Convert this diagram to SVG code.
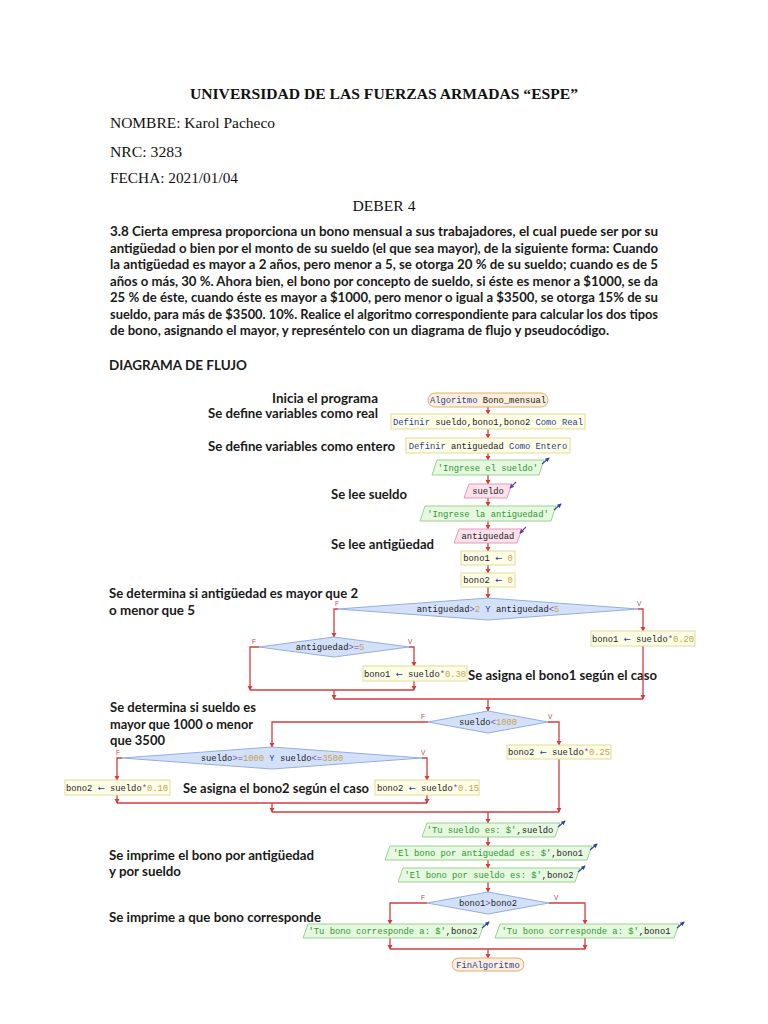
<svg xmlns="http://www.w3.org/2000/svg" width="768" height="1024" viewBox="0 0 768 1024">
<defs>
<style>
.ser{font-family:"Liberation Serif","Times New Roman",serif;font-size:15px;fill:#111}
.serb{font-family:"Liberation Serif","Times New Roman",serif;font-size:15px;font-weight:bold;fill:#111}
.par{font-family:Lato,"Liberation Sans",sans-serif;font-size:13.5px;font-weight:bold;fill:#1a1a1a}
.lbl{font-family:Lato,"Liberation Sans",sans-serif;font-size:13.5px;font-weight:bold;fill:#1a1a1a}
.code{font-family:"Liberation Mono","DejaVu Sans Mono",monospace;font-size:8.8px;fill:#222}
.kw{fill:#2a3f9a}.num{fill:#c8a050}.str{fill:#2a9a2a}.op{fill:#7a48b0}
.ar{fill:#2a3f9a;font-family:"DejaVu Sans",sans-serif;font-size:8.5px}
.term{fill:#fbeedc;stroke:#e0ae6a;stroke-width:1}
.proc{fill:#fefde6;stroke:#e2dc9a;stroke-width:1}
.inp{fill:#fbe1ec;stroke:#e49ab8;stroke-width:1}
.out{fill:#e6f8e0;stroke:#98d290;stroke-width:1}
.dec{fill:#d3e1f8;stroke:#96ade0;stroke-width:1}
.cn{fill:none;stroke:#d43c3c;stroke-width:1.3}
.bl{font-family:"Liberation Sans",sans-serif;font-size:6.5px;fill:#d43c3c}
.oic{stroke:#2a3fb0;stroke-width:1.1;fill:none}
.iic{stroke:#6a3ab0;stroke-width:1.1;fill:none}
</style>
<marker id="ah" viewBox="0 0 6 6" refX="5" refY="3" markerWidth="4" markerHeight="4" orient="auto"><path d="M0,0L6,3L0,6z" fill="#d43c3c"/></marker>
<marker id="ob" viewBox="0 0 6 6" refX="5" refY="3" markerWidth="4" markerHeight="4" orient="auto"><path d="M0,0L6,3L0,6z" fill="#2a3fb0"/></marker>
<marker id="ip" viewBox="0 0 6 6" refX="5" refY="3" markerWidth="4" markerHeight="4" orient="auto"><path d="M0,0L6,3L0,6z" fill="#6a3ab0"/></marker>
</defs>
<rect width="768" height="1024" fill="#ffffff"/>

<g id="header">
<text class="serb" x="384" y="99" text-anchor="middle" textLength="388" lengthAdjust="spacingAndGlyphs">UNIVERSIDAD DE LAS FUERZAS ARMADAS “ESPE”</text>
<text class="ser" x="110" y="128" textLength="165" lengthAdjust="spacingAndGlyphs">NOMBRE: Karol Pacheco</text>
<text class="ser" x="110" y="157" textLength="72" lengthAdjust="spacingAndGlyphs">NRC: 3283</text>
<text class="ser" x="110" y="183" textLength="128" lengthAdjust="spacingAndGlyphs">FECHA: 2021/01/04</text>
<text class="ser" x="384" y="211" text-anchor="middle" textLength="63" lengthAdjust="spacingAndGlyphs">DEBER 4</text>
<text class="par" x="110" y="236" textLength="548" lengthAdjust="spacingAndGlyphs">3.8 Cierta empresa proporciona un bono mensual a sus trabajadores, el cual puede ser por su</text>
<text class="par" x="110" y="253" textLength="548" lengthAdjust="spacingAndGlyphs">antigüedad o bien por el monto de su sueldo (el que sea mayor), de la siguiente forma: Cuando</text>
<text class="par" x="110" y="269" textLength="548" lengthAdjust="spacingAndGlyphs">la antigüedad es mayor a 2 años, pero menor a 5, se otorga 20 % de su sueldo; cuando es de 5</text>
<text class="par" x="110" y="286" textLength="548" lengthAdjust="spacingAndGlyphs">años o más, 30 %. Ahora bien, el bono por concepto de sueldo, si éste es menor a $1000, se da</text>
<text class="par" x="110" y="302" textLength="548" lengthAdjust="spacingAndGlyphs">25 % de éste, cuando éste es mayor a $1000, pero menor o igual a $3500, se otorga 15% de su</text>
<text class="par" x="110" y="319" textLength="548" lengthAdjust="spacingAndGlyphs">sueldo, para más de $3500. 10%. Realice el algoritmo correspondiente para calcular los dos tipos</text>
<text class="par" x="110" y="335" textLength="499" lengthAdjust="spacingAndGlyphs">de bono, asignando el mayor, y represéntelo con un diagrama de flujo y pseudocódigo.</text>
<text class="lbl" x="109" y="370" textLength="138" lengthAdjust="spacingAndGlyphs">DIAGRAMA DE FLUJO</text>
</g>

<g id="annotations">
<text class="lbl" x="272" y="403" textLength="106" lengthAdjust="spacingAndGlyphs">Inicia el programa</text>
<text class="lbl" x="208" y="418" textLength="170" lengthAdjust="spacingAndGlyphs">Se define variables como real</text>
<text class="lbl" x="208" y="451" textLength="187" lengthAdjust="spacingAndGlyphs">Se define variables como entero</text>
<text class="lbl" x="331" y="499" textLength="76" lengthAdjust="spacingAndGlyphs">Se lee sueldo</text>
<text class="lbl" x="331" y="549" textLength="103" lengthAdjust="spacingAndGlyphs">Se lee antigüedad</text>
<text class="lbl" x="109" y="598" textLength="249" lengthAdjust="spacingAndGlyphs">Se determina si antigüedad es mayor que 2</text>
<text class="lbl" x="109" y="615" textLength="86" lengthAdjust="spacingAndGlyphs">o menor que 5</text>
<text class="lbl" x="468" y="680" textLength="189" lengthAdjust="spacingAndGlyphs">Se asigna el bono1 según el caso</text>
<text class="lbl" x="110" y="712" textLength="146" lengthAdjust="spacingAndGlyphs">Se determina si sueldo es</text>
<text class="lbl" x="110" y="729" textLength="143" lengthAdjust="spacingAndGlyphs">mayor que 1000 o menor</text>
<text class="lbl" x="110" y="745" textLength="55" lengthAdjust="spacingAndGlyphs">que 3500</text>
<text class="lbl" x="183" y="793" style="font-size:12.5px" textLength="186" lengthAdjust="spacingAndGlyphs">Se asigna el bono2 según el caso</text>
<text class="lbl" x="109" y="860" textLength="205" lengthAdjust="spacingAndGlyphs">Se imprime el bono por antigüedad</text>
<text class="lbl" x="109" y="876" textLength="72" lengthAdjust="spacingAndGlyphs">y por sueldo</text>
<text class="lbl" x="109" y="922" textLength="212" lengthAdjust="spacingAndGlyphs">Se imprime a que bono corresponde</text>
</g>

<g id="connectors">
<path class="cn" marker-end="url(#ah)" d="M488,407V414"/>
<path class="cn" marker-end="url(#ah)" d="M488,429V438"/>
<path class="cn" marker-end="url(#ah)" d="M488,453V460"/>
<path class="cn" marker-end="url(#ah)" d="M488,475V484"/>
<path class="cn" marker-end="url(#ah)" d="M488,498V506"/>
<path class="cn" marker-end="url(#ah)" d="M488,521V529"/>
<path class="cn" marker-end="url(#ah)" d="M488,543V551"/>
<path class="cn" marker-end="url(#ah)" d="M488,565V573"/>
<path class="cn" marker-end="url(#ah)" d="M488,587V598"/>
<path class="cn" marker-end="url(#ah)" d="M338,609H334V637"/>
<path class="cn" marker-end="url(#ah)" d="M638,609H643V631"/>
<path class="cn" marker-end="url(#ah)" d="M643,646V699"/>
<path class="cn" marker-end="url(#ah)" d="M259,647H250V690"/>
<path class="cn" marker-end="url(#ah)" d="M409,647H414V666"/>
<path class="cn" marker-end="url(#ah)" d="M414,681V690"/>
<path class="cn" d="M250,690H414"/>
<path class="cn" marker-end="url(#ah)" d="M334,690V699"/>
<path class="cn" d="M334,699H643"/>
<path class="cn" marker-end="url(#ah)" d="M488,699V711"/>
<path class="cn" marker-end="url(#ah)" d="M428,722H272V747"/>
<path class="cn" marker-end="url(#ah)" d="M548,722H559V745"/>
<path class="cn" marker-end="url(#ah)" d="M559,759V812"/>
<path class="cn" marker-end="url(#ah)" d="M122,758H117V780"/>
<path class="cn" marker-end="url(#ah)" d="M117,795V803"/>
<path class="cn" marker-end="url(#ah)" d="M422,758H427V780"/>
<path class="cn" marker-end="url(#ah)" d="M427,795V803"/>
<path class="cn" d="M117,803H427"/>
<path class="cn" marker-end="url(#ah)" d="M272,803V812"/>
<path class="cn" d="M272,812H559"/>
<path class="cn" marker-end="url(#ah)" d="M488,812V823"/>
<path class="cn" marker-end="url(#ah)" d="M488,837V846"/>
<path class="cn" marker-end="url(#ah)" d="M488,860V868"/>
<path class="cn" marker-end="url(#ah)" d="M488,882V892"/>
<path class="cn" marker-end="url(#ah)" d="M427,903H390V924"/>
<path class="cn" marker-end="url(#ah)" d="M549,903H585V924"/>
<path class="cn" marker-end="url(#ah)" d="M390,938V949"/>
<path class="cn" marker-end="url(#ah)" d="M585,938V949"/>
<path class="cn" d="M390,949H585"/>
<path class="cn" marker-end="url(#ah)" d="M488,949V958"/>
<text class="bl" x="335" y="606">F</text>
<text class="bl" x="637" y="606">V</text>
<text class="bl" x="252" y="644">F</text>
<text class="bl" x="408" y="644">V</text>
<text class="bl" x="421" y="719">F</text>
<text class="bl" x="548" y="719">V</text>
<text class="bl" x="116" y="755">F</text>
<text class="bl" x="421" y="755">V</text>
<text class="bl" x="421" y="900">F</text>
<text class="bl" x="554" y="900">V</text>
</g>

<g id="n_inicio"><rect class="term" x="428" y="393" width="120" height="14" rx="7"/><text class="code" x="488" y="403" text-anchor="middle"><tspan class="kw">Algoritmo</tspan> Bono_mensual</text></g>
<g id="n_def1"><rect class="proc" x="391" y="414" width="194" height="15"/><text class="code" x="488" y="425" text-anchor="middle"><tspan class="kw">Definir</tspan> sueldo,bono1,bono2 <tspan class="kw">Como Real</tspan></text></g>
<g id="n_def2"><rect class="proc" x="406" y="438" width="164" height="15"/><text class="code" x="488" y="449" text-anchor="middle"><tspan class="kw">Definir</tspan> antiguedad <tspan class="kw">Como Entero</tspan></text></g>
<g id="n_out1"><polygon class="out" points="437,460 544,460 539,475 432,475"/><text class="code" x="488" y="471" text-anchor="middle"><tspan class="str">'Ingrese el sueldo'</tspan></text><path class="oic" marker-end="url(#ob)" d="M542,464L549,458"/></g>
<g id="n_in1"><polygon class="inp" points="469,484 512,484 507,498 464,498"/><text class="code" x="488" y="494" text-anchor="middle">sueldo</text><path class="iic" marker-end="url(#ip)" d="M516,482L510,488"/></g>
<g id="n_out2"><polygon class="out" points="425,506 556,506 551,521 420,521"/><text class="code" x="488" y="517" text-anchor="middle"><tspan class="str">'Ingrese la antiguedad'</tspan></text><path class="oic" marker-end="url(#ob)" d="M554,510L561,504"/></g>
<g id="n_in2"><polygon class="inp" points="459,529 522,529 517,543 454,543"/><text class="code" x="488" y="539" text-anchor="middle">antiguedad</text><path class="iic" marker-end="url(#ip)" d="M526,527L520,533"/></g>
<g id="n_b1"><rect class="proc" x="461" y="551" width="54" height="14"/><text class="code" x="488" y="561" text-anchor="middle">bono1 <tspan class="ar">←</tspan> <tspan class="num">0</tspan></text></g>
<g id="n_b2"><rect class="proc" x="461" y="573" width="54" height="14"/><text class="code" x="488" y="583" text-anchor="middle">bono2 <tspan class="ar">←</tspan> <tspan class="num">0</tspan></text></g>
<g id="n_d1"><polygon class="dec" points="338,609 488,598 638,609 488,620"/><text class="code" x="488" y="612" text-anchor="middle">antiguedad<tspan class="op">&gt;</tspan><tspan class="num">2</tspan> <tspan class="kw">Y</tspan> antiguedad<tspan class="op">&lt;</tspan><tspan class="num">5</tspan></text></g>
<g id="n_d2"><polygon class="dec" points="259,647 334,637 409,647 334,657"/><text class="code" x="330" y="650" text-anchor="middle">antiguedad<tspan class="op">&gt;=</tspan><tspan class="num">5</tspan></text></g>
<g id="n_a30"><rect class="proc" x="363" y="666" width="104" height="15"/><text class="code" x="415" y="677" text-anchor="middle">bono1 <tspan class="ar">←</tspan> sueldo<tspan class="op">*</tspan><tspan class="num">0.30</tspan></text></g>
<g id="n_a20"><rect class="proc" x="591" y="631" width="104" height="15"/><text class="code" x="643" y="642" text-anchor="middle">bono1 <tspan class="ar">←</tspan> sueldo<tspan class="op">*</tspan><tspan class="num">0.20</tspan></text></g>
<g id="n_d3"><polygon class="dec" points="428,722 488,711 548,722 488,733"/><text class="code" x="488" y="725" text-anchor="middle">sueldo<tspan class="op">&lt;</tspan><tspan class="num">1000</tspan></text></g>
<g id="n_a25"><rect class="proc" x="507" y="745" width="104" height="14"/><text class="code" x="559" y="755" text-anchor="middle">bono2 <tspan class="ar">←</tspan> sueldo<tspan class="op">*</tspan><tspan class="num">0.25</tspan></text></g>
<g id="n_d4"><polygon class="dec" points="122,758 272,747 422,758 272,769"/><text class="code" x="272" y="761" text-anchor="middle">sueldo<tspan class="op">&gt;=</tspan><tspan class="num">1000</tspan> <tspan class="kw">Y</tspan> sueldo<tspan class="op">&lt;=</tspan><tspan class="num">3500</tspan></text></g>
<g id="n_a10"><rect class="proc" x="65" y="780" width="105" height="15"/><text class="code" x="117" y="791" text-anchor="middle">bono2 <tspan class="ar">←</tspan> sueldo<tspan class="op">*</tspan><tspan class="num">0.10</tspan></text></g>
<g id="n_a15"><rect class="proc" x="375" y="780" width="104" height="15"/><text class="code" x="428" y="791" text-anchor="middle">bono2 <tspan class="ar">←</tspan> sueldo<tspan class="op">*</tspan><tspan class="num">0.15</tspan></text></g>
<g id="n_out3"><polygon class="out" points="427,823 560,823 555,837 422,837"/><text class="code" x="490" y="833" text-anchor="middle"><tspan class="str">'Tu sueldo es: $'</tspan>,sueldo</text><path class="oic" marker-end="url(#ob)" d="M558,827L565,821"/></g>
<g id="n_out4"><polygon class="out" points="390,846 592,846 587,860 385,860"/><text class="code" x="488" y="856" text-anchor="middle"><tspan class="str">'El bono por antiguedad es: $'</tspan>,bono1</text><path class="oic" marker-end="url(#ob)" d="M590,850L597,844"/></g>
<g id="n_out5"><polygon class="out" points="403,868 580,868 575,882 398,882"/><text class="code" x="489" y="878" text-anchor="middle"><tspan class="str">'El bono por sueldo es: $'</tspan>,bono2</text><path class="oic" marker-end="url(#ob)" d="M578,872L585,866"/></g>
<g id="n_d5"><polygon class="dec" points="427,903 488,892 549,903 488,914"/><text class="code" x="488" y="906" text-anchor="middle">bono1<tspan class="op">&gt;</tspan>bono2</text></g>
<g id="n_out6"><polygon class="out" points="308,924 484,924 479,938 303,938"/><text class="code" x="393" y="934" text-anchor="middle"><tspan class="str">'Tu bono corresponde a: $'</tspan>,bono2</text><path class="oic" marker-end="url(#ob)" d="M482,928L489,922"/></g>
<g id="n_out7"><polygon class="out" points="500,924 679,924 674,938 495,938"/><text class="code" x="586" y="934" text-anchor="middle"><tspan class="str">'Tu bono corresponde a: $'</tspan>,bono1</text><path class="oic" marker-end="url(#ob)" d="M677,928L684,922"/></g>
<g id="n_fin"><rect class="term" x="452" y="958" width="72" height="13" rx="6.5"/><text class="code" x="488" y="967.5" text-anchor="middle"><tspan class="kw">FinAlgoritmo</tspan></text></g>
</svg>
